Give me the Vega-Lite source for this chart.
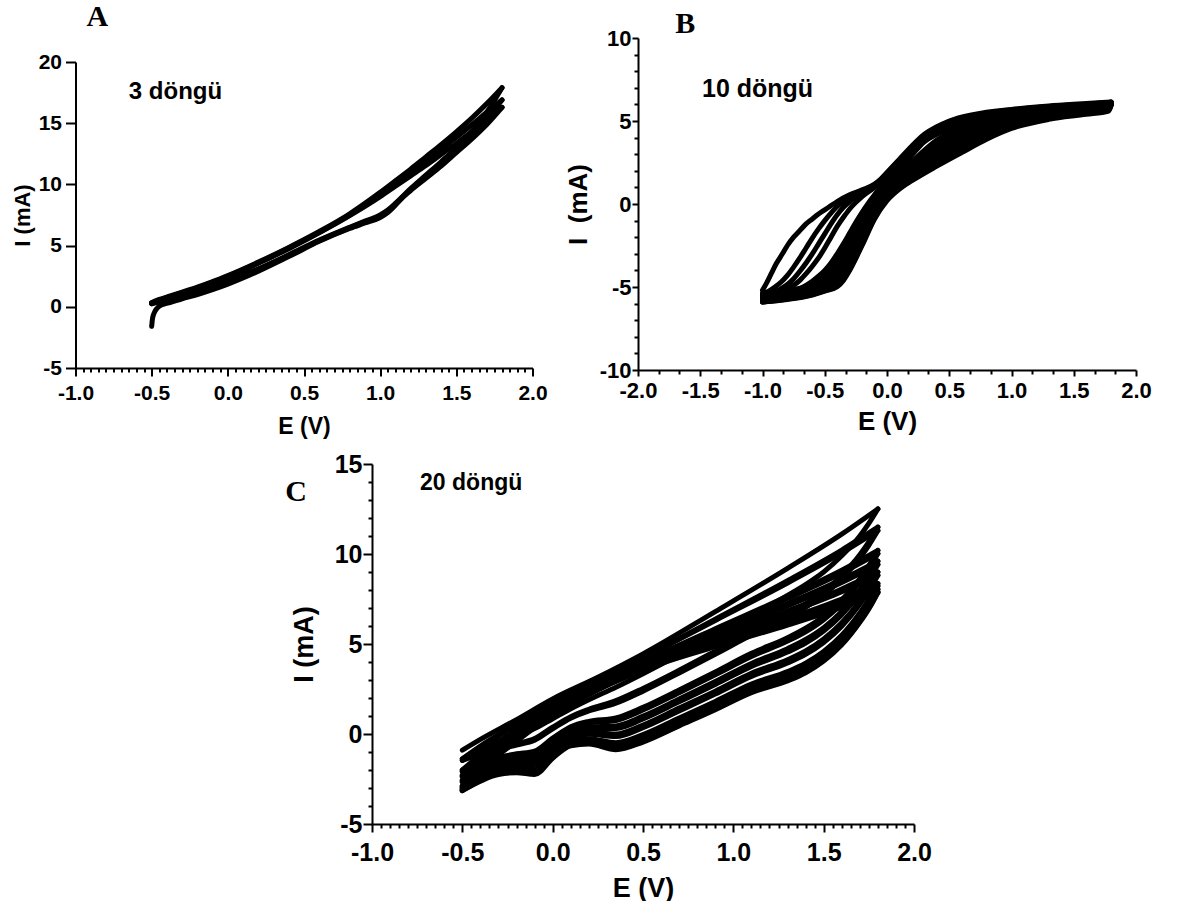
{
"$schema":"https://vega.github.io/schema/vega-lite/v6.json",
"background":"white",
"padding":{"left":10.5,"top":2,"right":0,"bottom":0},
"config":{"view":{"stroke":null},"axis":{"grid":false,"domainColor":"black","domainWidth":2,"tickColor":"black","tickWidth":2,"labelColor":"black","titleColor":"black","labelFont":"Liberation Sans","titleFont":"Liberation Sans","labelFontWeight":"bold","titleFontWeight":"bold","labelOverlap":false,"labelBound":false,"labelFlush":false}},
"datasets":{
"A":[
{"s":"f1","E":-0.5,"I":-1.6},{"s":"f1","E":-0.495,"I":-1.0},{"s":"f1","E":-0.485,"I":-0.55},{"s":"f1","E":-0.47,"I":-0.2},{"s":"f1","E":-0.45,"I":0.05},{"s":"f1","E":-0.42,"I":0.22},{"s":"f1","E":-0.38,"I":0.35},{"s":"f1","E":-0.3,"I":0.65},{"s":"f1","E":-0.2,"I":1.0},{"s":"f1","E":-0.1,"I":1.4},{"s":"f1","E":0,"I":1.85},{"s":"f1","E":0.2,"I":2.9},{"s":"f1","E":0.4,"I":4.1},{"s":"f1","E":0.6,"I":5.35},{"s":"f1","E":0.8,"I":6.4},{"s":"f1","E":0.9,"I":6.85},{"s":"f1","E":1.0,"I":7.3},{"s":"f1","E":1.05,"I":7.7},{"s":"f1","E":1.1,"I":8.3},{"s":"f1","E":1.15,"I":8.95},{"s":"f1","E":1.2,"I":9.5},{"s":"f1","E":1.3,"I":10.5},{"s":"f1","E":1.4,"I":11.5},{"s":"f1","E":1.5,"I":12.6},{"s":"f1","E":1.6,"I":13.7},{"s":"f1","E":1.7,"I":14.9},{"s":"f1","E":1.8,"I":16.3},
{"s":"r1","E":-0.5,"I":0.25},{"s":"r1","E":-0.45,"I":0.5},{"s":"r1","E":-0.4,"I":0.7},{"s":"r1","E":-0.3,"I":1.1},{"s":"r1","E":-0.2,"I":1.5},{"s":"r1","E":-0.1,"I":1.95},{"s":"r1","E":0,"I":2.45},{"s":"r1","E":0.2,"I":3.55},{"s":"r1","E":0.4,"I":4.75},{"s":"r1","E":0.6,"I":6.05},{"s":"r1","E":0.8,"I":7.45},{"s":"r1","E":0.9,"I":8.2},{"s":"r1","E":1.0,"I":9.0},{"s":"r1","E":1.1,"I":9.85},{"s":"r1","E":1.2,"I":10.7},{"s":"r1","E":1.3,"I":11.55},{"s":"r1","E":1.4,"I":12.45},{"s":"r1","E":1.5,"I":13.35},{"s":"r1","E":1.6,"I":14.3},{"s":"r1","E":1.7,"I":15.3},{"s":"r1","E":1.8,"I":16.3},
{"s":"f2","E":-0.5,"I":0.25},{"s":"f2","E":-0.45,"I":0.4},{"s":"f2","E":-0.4,"I":0.55},{"s":"f2","E":-0.3,"I":0.85},{"s":"f2","E":-0.2,"I":1.2},{"s":"f2","E":-0.1,"I":1.6},{"s":"f2","E":0,"I":2.05},{"s":"f2","E":0.2,"I":3.05},{"s":"f2","E":0.4,"I":4.2},{"s":"f2","E":0.6,"I":5.4},{"s":"f2","E":0.8,"I":6.45},{"s":"f2","E":0.9,"I":6.95},{"s":"f2","E":1.0,"I":7.45},{"s":"f2","E":1.05,"I":7.85},{"s":"f2","E":1.1,"I":8.4},{"s":"f2","E":1.15,"I":9.0},{"s":"f2","E":1.2,"I":9.6},{"s":"f2","E":1.3,"I":10.65},{"s":"f2","E":1.4,"I":11.7},{"s":"f2","E":1.5,"I":12.8},{"s":"f2","E":1.6,"I":13.95},{"s":"f2","E":1.7,"I":15.35},{"s":"f2","E":1.8,"I":16.9},
{"s":"r2","E":-0.5,"I":0.3},{"s":"r2","E":-0.45,"I":0.55},{"s":"r2","E":-0.4,"I":0.75},{"s":"r2","E":-0.3,"I":1.15},{"s":"r2","E":-0.2,"I":1.55},{"s":"r2","E":-0.1,"I":2.0},{"s":"r2","E":0,"I":2.5},{"s":"r2","E":0.2,"I":3.6},{"s":"r2","E":0.4,"I":4.8},{"s":"r2","E":0.6,"I":6.1},{"s":"r2","E":0.8,"I":7.5},{"s":"r2","E":0.9,"I":8.3},{"s":"r2","E":1.0,"I":9.15},{"s":"r2","E":1.1,"I":10.05},{"s":"r2","E":1.2,"I":10.95},{"s":"r2","E":1.3,"I":11.9},{"s":"r2","E":1.4,"I":12.85},{"s":"r2","E":1.5,"I":13.85},{"s":"r2","E":1.6,"I":14.85},{"s":"r2","E":1.7,"I":15.9},{"s":"r2","E":1.8,"I":16.9},
{"s":"f3","E":-0.5,"I":0.3},{"s":"f3","E":-0.45,"I":0.45},{"s":"f3","E":-0.4,"I":0.6},{"s":"f3","E":-0.3,"I":0.9},{"s":"f3","E":-0.2,"I":1.25},{"s":"f3","E":-0.1,"I":1.65},{"s":"f3","E":0,"I":2.1},{"s":"f3","E":0.2,"I":3.1},{"s":"f3","E":0.4,"I":4.25},{"s":"f3","E":0.6,"I":5.45},{"s":"f3","E":0.8,"I":6.5},{"s":"f3","E":0.9,"I":7.0},{"s":"f3","E":1.0,"I":7.5},{"s":"f3","E":1.05,"I":7.9},{"s":"f3","E":1.1,"I":8.45},{"s":"f3","E":1.15,"I":9.05},{"s":"f3","E":1.2,"I":9.65},{"s":"f3","E":1.3,"I":10.75},{"s":"f3","E":1.4,"I":11.85},{"s":"f3","E":1.5,"I":13.0},{"s":"f3","E":1.6,"I":14.3},{"s":"f3","E":1.7,"I":15.9},{"s":"f3","E":1.8,"I":17.9},
{"s":"r3","E":-0.5,"I":0.35},{"s":"r3","E":-0.45,"I":0.6},{"s":"r3","E":-0.4,"I":0.8},{"s":"r3","E":-0.3,"I":1.2},{"s":"r3","E":-0.2,"I":1.6},{"s":"r3","E":-0.1,"I":2.05},{"s":"r3","E":0,"I":2.55},{"s":"r3","E":0.2,"I":3.65},{"s":"r3","E":0.4,"I":4.85},{"s":"r3","E":0.6,"I":6.15},{"s":"r3","E":0.8,"I":7.6},{"s":"r3","E":0.9,"I":8.45},{"s":"r3","E":1.0,"I":9.35},{"s":"r3","E":1.1,"I":10.3},{"s":"r3","E":1.2,"I":11.25},{"s":"r3","E":1.3,"I":12.25},{"s":"r3","E":1.4,"I":13.25},{"s":"r3","E":1.5,"I":14.3},{"s":"r3","E":1.6,"I":15.4},{"s":"r3","E":1.7,"I":16.6},{"s":"r3","E":1.8,"I":17.9}
],
"B":[
{"s":"f1","E":-1.0,"I":-5.2},{"s":"f1","E":-0.97,"I":-4.8},{"s":"f1","E":-0.93,"I":-4.2},{"s":"f1","E":-0.89,"I":-3.6},{"s":"f1","E":-0.84,"I":-3.0},{"s":"f1","E":-0.8,"I":-2.5},{"s":"f1","E":-0.75,"I":-2.0},{"s":"f1","E":-0.7,"I":-1.6},{"s":"f1","E":-0.65,"I":-1.2},{"s":"f1","E":-0.6,"I":-0.9},{"s":"f1","E":-0.55,"I":-0.6},{"s":"f1","E":-0.5,"I":-0.35},{"s":"f1","E":-0.45,"I":-0.1},{"s":"f1","E":-0.4,"I":0.15},{"s":"f1","E":-0.3,"I":0.55},{"s":"f1","E":-0.2,"I":0.85},{"s":"f1","E":-0.1,"I":1.2},{"s":"f1","E":-0.05,"I":1.5},{"s":"f1","E":0,"I":1.9},{"s":"f1","E":0.1,"I":2.7},{"s":"f1","E":0.2,"I":3.5},{"s":"f1","E":0.3,"I":4.2},{"s":"f1","E":0.4,"I":4.65},{"s":"f1","E":0.5,"I":5.0},{"s":"f1","E":0.7,"I":5.4},{"s":"f1","E":1.0,"I":5.7},{"s":"f1","E":1.3,"I":5.9},{"s":"f1","E":1.6,"I":6.05},{"s":"f1","E":1.8,"I":6.15},
{"s":"f2","E":-1.0,"I":-5.4},{"s":"f2","E":-0.95,"I":-5.25},{"s":"f2","E":-0.9,"I":-5.0},{"s":"f2","E":-0.85,"I":-4.7},{"s":"f2","E":-0.8,"I":-4.3},{"s":"f2","E":-0.75,"I":-3.8},{"s":"f2","E":-0.7,"I":-3.25},{"s":"f2","E":-0.65,"I":-2.65},{"s":"f2","E":-0.6,"I":-2.05},{"s":"f2","E":-0.55,"I":-1.5},{"s":"f2","E":-0.5,"I":-1.0},{"s":"f2","E":-0.45,"I":-0.55},{"s":"f2","E":-0.4,"I":-0.15},{"s":"f2","E":-0.35,"I":0.15},{"s":"f2","E":-0.3,"I":0.4},{"s":"f2","E":-0.2,"I":0.78},{"s":"f2","E":-0.1,"I":1.15},{"s":"f2","E":-0.05,"I":1.45},{"s":"f2","E":0,"I":1.85},{"s":"f2","E":0.1,"I":2.65},{"s":"f2","E":0.2,"I":3.45},{"s":"f2","E":0.3,"I":4.15},{"s":"f2","E":0.4,"I":4.6},{"s":"f2","E":0.5,"I":4.95},{"s":"f2","E":0.7,"I":5.35},{"s":"f2","E":1.0,"I":5.67},{"s":"f2","E":1.3,"I":5.87},{"s":"f2","E":1.6,"I":6.03},{"s":"f2","E":1.8,"I":6.12},
{"s":"f3","E":-1.0,"I":-5.5},{"s":"f3","E":-0.9,"I":-5.3},{"s":"f3","E":-0.85,"I":-5.1},{"s":"f3","E":-0.8,"I":-4.85},{"s":"f3","E":-0.75,"I":-4.5},{"s":"f3","E":-0.7,"I":-4.05},{"s":"f3","E":-0.65,"I":-3.55},{"s":"f3","E":-0.6,"I":-3.0},{"s":"f3","E":-0.55,"I":-2.4},{"s":"f3","E":-0.5,"I":-1.8},{"s":"f3","E":-0.45,"I":-1.2},{"s":"f3","E":-0.4,"I":-0.65},{"s":"f3","E":-0.35,"I":-0.2},{"s":"f3","E":-0.3,"I":0.15},{"s":"f3","E":-0.2,"I":0.68},{"s":"f3","E":-0.1,"I":1.1},{"s":"f3","E":-0.05,"I":1.4},{"s":"f3","E":0,"I":1.8},{"s":"f3","E":0.1,"I":2.6},{"s":"f3","E":0.2,"I":3.4},{"s":"f3","E":0.3,"I":4.1},{"s":"f3","E":0.4,"I":4.55},{"s":"f3","E":0.5,"I":4.9},{"s":"f3","E":0.7,"I":5.3},{"s":"f3","E":1.0,"I":5.64},{"s":"f3","E":1.3,"I":5.85},{"s":"f3","E":1.6,"I":6.0},{"s":"f3","E":1.8,"I":6.1},
{"s":"f4","E":-1.0,"I":-5.6},{"s":"f4","E":-0.9,"I":-5.45},{"s":"f4","E":-0.8,"I":-5.15},{"s":"f4","E":-0.75,"I":-4.9},{"s":"f4","E":-0.7,"I":-4.6},{"s":"f4","E":-0.65,"I":-4.2},{"s":"f4","E":-0.6,"I":-3.75},{"s":"f4","E":-0.55,"I":-3.25},{"s":"f4","E":-0.5,"I":-2.65},{"s":"f4","E":-0.45,"I":-2.0},{"s":"f4","E":-0.4,"I":-1.35},{"s":"f4","E":-0.35,"I":-0.8},{"s":"f4","E":-0.3,"I":-0.3},{"s":"f4","E":-0.25,"I":0.1},{"s":"f4","E":-0.2,"I":0.45},{"s":"f4","E":-0.1,"I":1.0},{"s":"f4","E":-0.05,"I":1.33},{"s":"f4","E":0,"I":1.75},{"s":"f4","E":0.1,"I":2.55},{"s":"f4","E":0.2,"I":3.35},{"s":"f4","E":0.3,"I":4.05},{"s":"f4","E":0.4,"I":4.5},{"s":"f4","E":0.5,"I":4.85},{"s":"f4","E":0.7,"I":5.28},{"s":"f4","E":1.0,"I":5.6},{"s":"f4","E":1.3,"I":5.82},{"s":"f4","E":1.6,"I":5.98},{"s":"f4","E":1.8,"I":6.08},
{"s":"f5","E":-1.0,"I":-5.7},{"s":"f5","E":-0.9,"I":-5.6},{"s":"f5","E":-0.8,"I":-5.4},{"s":"f5","E":-0.7,"I":-5.1},{"s":"f5","E":-0.6,"I":-4.65},{"s":"f5","E":-0.55,"I":-4.35},{"s":"f5","E":-0.5,"I":-4.0},{"s":"f5","E":-0.45,"I":-3.55},{"s":"f5","E":-0.4,"I":-3.0},{"s":"f5","E":-0.35,"I":-2.4},{"s":"f5","E":-0.3,"I":-1.75},{"s":"f5","E":-0.25,"I":-1.1},{"s":"f5","E":-0.2,"I":-0.5},{"s":"f5","E":-0.15,"I":0.05},{"s":"f5","E":-0.1,"I":0.55},{"s":"f5","E":-0.05,"I":1.05},{"s":"f5","E":0,"I":1.55},{"s":"f5","E":0.1,"I":2.45},{"s":"f5","E":0.2,"I":3.3},{"s":"f5","E":0.3,"I":4.0},{"s":"f5","E":0.4,"I":4.45},{"s":"f5","E":0.5,"I":4.8},{"s":"f5","E":0.7,"I":5.25},{"s":"f5","E":1.0,"I":5.57},{"s":"f5","E":1.3,"I":5.8},{"s":"f5","E":1.6,"I":5.96},{"s":"f5","E":1.8,"I":6.06},
{"s":"f6","E":-1.0,"I":-5.75},{"s":"f6","E":-0.9,"I":-5.65},{"s":"f6","E":-0.8,"I":-5.45},{"s":"f6","E":-0.7,"I":-5.2},{"s":"f6","E":-0.6,"I":-4.8},{"s":"f6","E":-0.5,"I":-4.2},{"s":"f6","E":-0.45,"I":-3.8},{"s":"f6","E":-0.4,"I":-3.3},{"s":"f6","E":-0.35,"I":-2.75},{"s":"f6","E":-0.3,"I":-2.1},{"s":"f6","E":-0.25,"I":-1.45},{"s":"f6","E":-0.2,"I":-0.8},{"s":"f6","E":-0.15,"I":-0.2},{"s":"f6","E":-0.1,"I":0.35},{"s":"f6","E":-0.05,"I":0.9},{"s":"f6","E":0,"I":1.45},{"s":"f6","E":0.1,"I":2.4},{"s":"f6","E":0.2,"I":3.25},{"s":"f6","E":0.3,"I":3.95},{"s":"f6","E":0.4,"I":4.4},{"s":"f6","E":0.5,"I":4.75},{"s":"f6","E":0.7,"I":5.2},{"s":"f6","E":1.0,"I":5.54},{"s":"f6","E":1.3,"I":5.77},{"s":"f6","E":1.6,"I":5.94},{"s":"f6","E":1.8,"I":6.04},
{"s":"f7","E":-1.0,"I":-5.8},{"s":"f7","E":-0.9,"I":-5.7},{"s":"f7","E":-0.8,"I":-5.5},{"s":"f7","E":-0.7,"I":-5.25},{"s":"f7","E":-0.6,"I":-4.9},{"s":"f7","E":-0.5,"I":-4.4},{"s":"f7","E":-0.45,"I":-4.0},{"s":"f7","E":-0.4,"I":-3.55},{"s":"f7","E":-0.35,"I":-3.05},{"s":"f7","E":-0.3,"I":-2.45},{"s":"f7","E":-0.25,"I":-1.8},{"s":"f7","E":-0.2,"I":-1.1},{"s":"f7","E":-0.15,"I":-0.45},{"s":"f7","E":-0.1,"I":0.15},{"s":"f7","E":-0.05,"I":0.75},{"s":"f7","E":0,"I":1.35},{"s":"f7","E":0.1,"I":2.3},{"s":"f7","E":0.2,"I":3.15},{"s":"f7","E":0.3,"I":3.9},{"s":"f7","E":0.4,"I":4.35},{"s":"f7","E":0.5,"I":4.7},{"s":"f7","E":0.7,"I":5.15},{"s":"f7","E":1.0,"I":5.5},{"s":"f7","E":1.3,"I":5.74},{"s":"f7","E":1.6,"I":5.92},{"s":"f7","E":1.8,"I":6.02},
{"s":"f8","E":-1.0,"I":-5.85},{"s":"f8","E":-0.9,"I":-5.75},{"s":"f8","E":-0.8,"I":-5.55},{"s":"f8","E":-0.7,"I":-5.3},{"s":"f8","E":-0.6,"I":-5.0},{"s":"f8","E":-0.5,"I":-4.55},{"s":"f8","E":-0.45,"I":-4.2},{"s":"f8","E":-0.4,"I":-3.8},{"s":"f8","E":-0.35,"I":-3.3},{"s":"f8","E":-0.3,"I":-2.75},{"s":"f8","E":-0.25,"I":-2.1},{"s":"f8","E":-0.2,"I":-1.4},{"s":"f8","E":-0.15,"I":-0.7},{"s":"f8","E":-0.1,"I":-0.05},{"s":"f8","E":-0.05,"I":0.6},{"s":"f8","E":0,"I":1.2},{"s":"f8","E":0.1,"I":2.2},{"s":"f8","E":0.2,"I":3.1},{"s":"f8","E":0.3,"I":3.85},{"s":"f8","E":0.4,"I":4.3},{"s":"f8","E":0.5,"I":4.65},{"s":"f8","E":0.7,"I":5.1},{"s":"f8","E":1.0,"I":5.47},{"s":"f8","E":1.3,"I":5.72},{"s":"f8","E":1.6,"I":5.9},{"s":"f8","E":1.8,"I":6.0},
{"s":"f9","E":-1.0,"I":-5.85},{"s":"f9","E":-0.9,"I":-5.78},{"s":"f9","E":-0.8,"I":-5.6},{"s":"f9","E":-0.7,"I":-5.35},{"s":"f9","E":-0.6,"I":-5.05},{"s":"f9","E":-0.5,"I":-4.65},{"s":"f9","E":-0.45,"I":-4.35},{"s":"f9","E":-0.4,"I":-4.0},{"s":"f9","E":-0.35,"I":-3.55},{"s":"f9","E":-0.3,"I":-3.05},{"s":"f9","E":-0.25,"I":-2.45},{"s":"f9","E":-0.2,"I":-1.7},{"s":"f9","E":-0.15,"I":-0.95},{"s":"f9","E":-0.1,"I":-0.25},{"s":"f9","E":-0.05,"I":0.45},{"s":"f9","E":0,"I":1.1},{"s":"f9","E":0.1,"I":2.1},{"s":"f9","E":0.2,"I":3.0},{"s":"f9","E":0.3,"I":3.8},{"s":"f9","E":0.4,"I":4.25},{"s":"f9","E":0.5,"I":4.6},{"s":"f9","E":0.7,"I":5.05},{"s":"f9","E":1.0,"I":5.44},{"s":"f9","E":1.3,"I":5.7},{"s":"f9","E":1.6,"I":5.88},{"s":"f9","E":1.8,"I":5.98},
{"s":"f10","E":-1.0,"I":-5.9},{"s":"f10","E":-0.9,"I":-5.8},{"s":"f10","E":-0.8,"I":-5.62},{"s":"f10","E":-0.7,"I":-5.4},{"s":"f10","E":-0.6,"I":-5.1},{"s":"f10","E":-0.5,"I":-4.75},{"s":"f10","E":-0.45,"I":-4.5},{"s":"f10","E":-0.4,"I":-4.15},{"s":"f10","E":-0.35,"I":-3.75},{"s":"f10","E":-0.3,"I":-3.25},{"s":"f10","E":-0.25,"I":-2.65},{"s":"f10","E":-0.2,"I":-1.95},{"s":"f10","E":-0.15,"I":-1.2},{"s":"f10","E":-0.1,"I":-0.45},{"s":"f10","E":-0.05,"I":0.3},{"s":"f10","E":0,"I":1.0},{"s":"f10","E":0.1,"I":2.0},{"s":"f10","E":0.2,"I":2.95},{"s":"f10","E":0.3,"I":3.75},{"s":"f10","E":0.4,"I":4.2},{"s":"f10","E":0.5,"I":4.55},{"s":"f10","E":0.7,"I":5.0},{"s":"f10","E":1.0,"I":5.4},{"s":"f10","E":1.3,"I":5.68},{"s":"f10","E":1.6,"I":5.86},{"s":"f10","E":1.8,"I":5.95},
{"s":"r1","E":1.8,"I":6.15},{"s":"r1","E":1.78,"I":5.95},{"s":"r1","E":1.6,"I":5.95},{"s":"r1","E":1.3,"I":5.75},{"s":"r1","E":1.0,"I":5.45},{"s":"r1","E":0.8,"I":5.15},{"s":"r1","E":0.6,"I":4.7},{"s":"r1","E":0.4,"I":3.85},{"s":"r1","E":0.2,"I":2.55},{"s":"r1","E":0.1,"I":1.85},{"s":"r1","E":0,"I":1.0},{"s":"r1","E":-0.1,"I":0.0},{"s":"r1","E":-0.2,"I":-1.4},{"s":"r1","E":-0.3,"I":-3.0},{"s":"r1","E":-0.35,"I":-3.6},{"s":"r1","E":-0.4,"I":-4.1},{"s":"r1","E":-0.5,"I":-4.6},{"s":"r1","E":-0.6,"I":-4.9},{"s":"r1","E":-0.8,"I":-5.2},{"s":"r1","E":-1.0,"I":-5.4},
{"s":"r2","E":1.8,"I":6.12},{"s":"r2","E":1.78,"I":5.9},{"s":"r2","E":1.6,"I":5.89},{"s":"r2","E":1.3,"I":5.68},{"s":"r2","E":1.0,"I":5.35},{"s":"r2","E":0.8,"I":5.01},{"s":"r2","E":0.6,"I":4.52},{"s":"r2","E":0.4,"I":3.68},{"s":"r2","E":0.2,"I":2.42},{"s":"r2","E":0.1,"I":1.74},{"s":"r2","E":0,"I":0.91},{"s":"r2","E":-0.1,"I":-0.15},{"s":"r2","E":-0.2,"I":-1.6},{"s":"r2","E":-0.3,"I":-3.2},{"s":"r2","E":-0.35,"I":-3.8},{"s":"r2","E":-0.4,"I":-4.3},{"s":"r2","E":-0.5,"I":-4.75},{"s":"r2","E":-0.6,"I":-5.05},{"s":"r2","E":-0.8,"I":-5.35},{"s":"r2","E":-1.0,"I":-5.5},
{"s":"r3","E":1.8,"I":6.1},{"s":"r3","E":1.78,"I":5.85},{"s":"r3","E":1.6,"I":5.83},{"s":"r3","E":1.3,"I":5.61},{"s":"r3","E":1.0,"I":5.25},{"s":"r3","E":0.8,"I":4.87},{"s":"r3","E":0.6,"I":4.34},{"s":"r3","E":0.4,"I":3.5},{"s":"r3","E":0.2,"I":2.29},{"s":"r3","E":0.1,"I":1.64},{"s":"r3","E":0,"I":0.82},{"s":"r3","E":-0.1,"I":-0.28},{"s":"r3","E":-0.2,"I":-1.75},{"s":"r3","E":-0.3,"I":-3.35},{"s":"r3","E":-0.35,"I":-3.95},{"s":"r3","E":-0.4,"I":-4.45},{"s":"r3","E":-0.5,"I":-4.88},{"s":"r3","E":-0.6,"I":-5.15},{"s":"r3","E":-0.8,"I":-5.45},{"s":"r3","E":-1.0,"I":-5.6},
{"s":"r4","E":1.8,"I":6.08},{"s":"r4","E":1.78,"I":5.8},{"s":"r4","E":1.6,"I":5.77},{"s":"r4","E":1.3,"I":5.53},{"s":"r4","E":1.0,"I":5.15},{"s":"r4","E":0.8,"I":4.73},{"s":"r4","E":0.6,"I":4.17},{"s":"r4","E":0.4,"I":3.33},{"s":"r4","E":0.2,"I":2.17},{"s":"r4","E":0.1,"I":1.53},{"s":"r4","E":0,"I":0.73},{"s":"r4","E":-0.1,"I":-0.4},{"s":"r4","E":-0.2,"I":-1.9},{"s":"r4","E":-0.3,"I":-3.5},{"s":"r4","E":-0.35,"I":-4.1},{"s":"r4","E":-0.4,"I":-4.55},{"s":"r4","E":-0.5,"I":-4.98},{"s":"r4","E":-0.6,"I":-5.22},{"s":"r4","E":-0.8,"I":-5.52},{"s":"r4","E":-1.0,"I":-5.7},
{"s":"r5","E":1.8,"I":6.06},{"s":"r5","E":1.78,"I":5.75},{"s":"r5","E":1.6,"I":5.71},{"s":"r5","E":1.3,"I":5.46},{"s":"r5","E":1.0,"I":5.05},{"s":"r5","E":0.8,"I":4.59},{"s":"r5","E":0.6,"I":3.99},{"s":"r5","E":0.4,"I":3.15},{"s":"r5","E":0.2,"I":2.04},{"s":"r5","E":0.1,"I":1.43},{"s":"r5","E":0,"I":0.64},{"s":"r5","E":-0.1,"I":-0.5},{"s":"r5","E":-0.2,"I":-2.02},{"s":"r5","E":-0.3,"I":-3.6},{"s":"r5","E":-0.35,"I":-4.2},{"s":"r5","E":-0.4,"I":-4.65},{"s":"r5","E":-0.5,"I":-5.05},{"s":"r5","E":-0.6,"I":-5.28},{"s":"r5","E":-0.8,"I":-5.58},{"s":"r5","E":-1.0,"I":-5.75},
{"s":"r6","E":1.8,"I":6.04},{"s":"r6","E":1.78,"I":5.72},{"s":"r6","E":1.6,"I":5.64},{"s":"r6","E":1.3,"I":5.39},{"s":"r6","E":1.0,"I":4.95},{"s":"r6","E":0.8,"I":4.46},{"s":"r6","E":0.6,"I":3.81},{"s":"r6","E":0.4,"I":2.98},{"s":"r6","E":0.2,"I":1.91},{"s":"r6","E":0.1,"I":1.32},{"s":"r6","E":0,"I":0.56},{"s":"r6","E":-0.1,"I":-0.6},{"s":"r6","E":-0.2,"I":-2.13},{"s":"r6","E":-0.3,"I":-3.7},{"s":"r6","E":-0.35,"I":-4.3},{"s":"r6","E":-0.4,"I":-4.72},{"s":"r6","E":-0.5,"I":-5.1},{"s":"r6","E":-0.6,"I":-5.33},{"s":"r6","E":-0.8,"I":-5.62},{"s":"r6","E":-1.0,"I":-5.8},
{"s":"r7","E":1.8,"I":6.02},{"s":"r7","E":1.78,"I":5.7},{"s":"r7","E":1.6,"I":5.58},{"s":"r7","E":1.3,"I":5.32},{"s":"r7","E":1.0,"I":4.85},{"s":"r7","E":0.8,"I":4.32},{"s":"r7","E":0.6,"I":3.63},{"s":"r7","E":0.4,"I":2.8},{"s":"r7","E":0.2,"I":1.78},{"s":"r7","E":0.1,"I":1.22},{"s":"r7","E":0,"I":0.47},{"s":"r7","E":-0.1,"I":-0.7},{"s":"r7","E":-0.2,"I":-2.23},{"s":"r7","E":-0.3,"I":-3.78},{"s":"r7","E":-0.35,"I":-4.38},{"s":"r7","E":-0.4,"I":-4.8},{"s":"r7","E":-0.5,"I":-5.15},{"s":"r7","E":-0.6,"I":-5.38},{"s":"r7","E":-0.8,"I":-5.66},{"s":"r7","E":-1.0,"I":-5.85},
{"s":"r8","E":1.8,"I":6.0},{"s":"r8","E":1.78,"I":5.66},{"s":"r8","E":1.6,"I":5.52},{"s":"r8","E":1.3,"I":5.25},{"s":"r8","E":1.0,"I":4.75},{"s":"r8","E":0.8,"I":4.18},{"s":"r8","E":0.6,"I":3.46},{"s":"r8","E":0.4,"I":2.63},{"s":"r8","E":0.2,"I":1.66},{"s":"r8","E":0.1,"I":1.11},{"s":"r8","E":0,"I":0.38},{"s":"r8","E":-0.1,"I":-0.78},{"s":"r8","E":-0.2,"I":-2.32},{"s":"r8","E":-0.3,"I":-3.86},{"s":"r8","E":-0.35,"I":-4.45},{"s":"r8","E":-0.4,"I":-4.86},{"s":"r8","E":-0.5,"I":-5.2},{"s":"r8","E":-0.6,"I":-5.42},{"s":"r8","E":-0.8,"I":-5.7},{"s":"r8","E":-1.0,"I":-5.85},
{"s":"r9","E":1.8,"I":5.98},{"s":"r9","E":1.78,"I":5.63},{"s":"r9","E":1.6,"I":5.46},{"s":"r9","E":1.3,"I":5.17},{"s":"r9","E":1.0,"I":4.65},{"s":"r9","E":0.8,"I":4.04},{"s":"r9","E":0.6,"I":3.28},{"s":"r9","E":0.4,"I":2.45},{"s":"r9","E":0.2,"I":1.53},{"s":"r9","E":0.1,"I":1.01},{"s":"r9","E":0,"I":0.29},{"s":"r9","E":-0.1,"I":-0.85},{"s":"r9","E":-0.2,"I":-2.42},{"s":"r9","E":-0.3,"I":-3.93},{"s":"r9","E":-0.35,"I":-4.52},{"s":"r9","E":-0.4,"I":-4.92},{"s":"r9","E":-0.5,"I":-5.22},{"s":"r9","E":-0.6,"I":-5.45},{"s":"r9","E":-0.8,"I":-5.72},{"s":"r9","E":-1.0,"I":-5.9},
{"s":"r10","E":1.8,"I":5.95},{"s":"r10","E":1.78,"I":5.6},{"s":"r10","E":1.6,"I":5.4},{"s":"r10","E":1.3,"I":5.1},{"s":"r10","E":1.0,"I":4.55},{"s":"r10","E":0.8,"I":3.9},{"s":"r10","E":0.6,"I":3.1},{"s":"r10","E":0.4,"I":2.28},{"s":"r10","E":0.2,"I":1.4},{"s":"r10","E":0.1,"I":0.9},{"s":"r10","E":0,"I":0.2},{"s":"r10","E":-0.1,"I":-0.9},{"s":"r10","E":-0.2,"I":-2.5},{"s":"r10","E":-0.3,"I":-4.0},{"s":"r10","E":-0.35,"I":-4.6},{"s":"r10","E":-0.4,"I":-4.98},{"s":"r10","E":-0.5,"I":-5.25},{"s":"r10","E":-0.6,"I":-5.48},{"s":"r10","E":-0.8,"I":-5.75},{"s":"r10","E":-1.0,"I":-5.9}
],
"C":[
{"s":"f1","E":-0.5,"I":-0.9},{"s":"f1","E":-0.4,"I":-0.3},{"s":"f1","E":-0.2,"I":0.8},{"s":"f1","E":0,"I":1.95},{"s":"f1","E":0.25,"I":3.15},{"s":"f1","E":0.5,"I":4.45},{"s":"f1","E":0.9,"I":6.8},{"s":"f1","E":1.3,"I":9.2},{"s":"f1","E":1.6,"I":11.1},{"s":"f1","E":1.8,"I":12.5},
{"s":"f2","E":-0.5,"I":-1.38},{"s":"f2","E":-0.4,"I":-0.67},{"s":"f2","E":-0.2,"I":0.55},{"s":"f2","E":0,"I":1.76},{"s":"f2","E":0.25,"I":3.01},{"s":"f2","E":0.5,"I":4.26},{"s":"f2","E":0.9,"I":6.38},{"s":"f2","E":1.3,"I":8.52},{"s":"f2","E":1.6,"I":10.22},{"s":"f2","E":1.8,"I":11.49},
{"s":"f3","E":-0.5,"I":-1.47},{"s":"f3","E":-0.4,"I":-0.74},{"s":"f3","E":-0.2,"I":0.5},{"s":"f3","E":0,"I":1.73},{"s":"f3","E":0.25,"I":2.98},{"s":"f3","E":0.5,"I":4.23},{"s":"f3","E":0.9,"I":6.31},{"s":"f3","E":1.3,"I":8.39},{"s":"f3","E":1.6,"I":10.06},{"s":"f3","E":1.8,"I":11.3},
{"s":"f4","E":-0.5,"I":-2.0},{"s":"f4","E":-0.4,"I":-1.15},{"s":"f4","E":-0.2,"I":0.23},{"s":"f4","E":0,"I":1.53},{"s":"f4","E":0.25,"I":2.83},{"s":"f4","E":0.5,"I":4.03},{"s":"f4","E":0.9,"I":5.85},{"s":"f4","E":1.3,"I":7.65},{"s":"f4","E":1.6,"I":9.1},{"s":"f4","E":1.8,"I":10.2},
{"s":"f5","E":-0.5,"I":-2.09},{"s":"f5","E":-0.4,"I":-1.22},{"s":"f5","E":-0.2,"I":0.18},{"s":"f5","E":0,"I":1.49},{"s":"f5","E":0.25,"I":2.8},{"s":"f5","E":0.5,"I":3.99},{"s":"f5","E":0.9,"I":5.77},{"s":"f5","E":1.3,"I":7.53},{"s":"f5","E":1.6,"I":8.94},{"s":"f5","E":1.8,"I":10.02},
{"s":"f6","E":-0.5,"I":-2.29},{"s":"f6","E":-0.4,"I":-1.37},{"s":"f6","E":-0.2,"I":0.08},{"s":"f6","E":0,"I":1.42},{"s":"f6","E":0.25,"I":2.74},{"s":"f6","E":0.5,"I":3.92},{"s":"f6","E":0.9,"I":5.6},{"s":"f6","E":1.3,"I":7.25},{"s":"f6","E":1.6,"I":8.58},{"s":"f6","E":1.8,"I":9.6},
{"s":"f7","E":-0.5,"I":-2.37},{"s":"f7","E":-0.4,"I":-1.44},{"s":"f7","E":-0.2,"I":0.03},{"s":"f7","E":0,"I":1.38},{"s":"f7","E":0.25,"I":2.72},{"s":"f7","E":0.5,"I":3.88},{"s":"f7","E":0.9,"I":5.53},{"s":"f7","E":1.3,"I":7.12},{"s":"f7","E":1.6,"I":8.42},{"s":"f7","E":1.8,"I":9.42},
{"s":"f8","E":-0.5,"I":-2.57},{"s":"f8","E":-0.4,"I":-1.59},{"s":"f8","E":-0.2,"I":-0.07},{"s":"f8","E":0,"I":1.3},{"s":"f8","E":0.25,"I":2.66},{"s":"f8","E":0.5,"I":3.8},{"s":"f8","E":0.9,"I":5.36},{"s":"f8","E":1.3,"I":6.84},{"s":"f8","E":1.6,"I":8.06},{"s":"f8","E":1.8,"I":9.0},
{"s":"f9","E":-0.5,"I":-2.66},{"s":"f9","E":-0.4,"I":-1.66},{"s":"f9","E":-0.2,"I":-0.12},{"s":"f9","E":0,"I":1.27},{"s":"f9","E":0.25,"I":2.63},{"s":"f9","E":0.5,"I":3.77},{"s":"f9","E":0.9,"I":5.28},{"s":"f9","E":1.3,"I":6.72},{"s":"f9","E":1.6,"I":7.9},{"s":"f9","E":1.8,"I":8.82},
{"s":"f10","E":-0.5,"I":-2.88},{"s":"f10","E":-0.4,"I":-1.83},{"s":"f10","E":-0.2,"I":-0.24},{"s":"f10","E":0,"I":1.19},{"s":"f10","E":0.25,"I":2.57},{"s":"f10","E":0.5,"I":3.69},{"s":"f10","E":0.9,"I":5.09},{"s":"f10","E":1.3,"I":6.41},{"s":"f10","E":1.6,"I":7.5},{"s":"f10","E":1.8,"I":8.36},
{"s":"f11","E":-0.5,"I":-2.95},{"s":"f11","E":-0.4,"I":-1.88},{"s":"f11","E":-0.2,"I":-0.27},{"s":"f11","E":0,"I":1.16},{"s":"f11","E":0.25,"I":2.55},{"s":"f11","E":0.5,"I":3.66},{"s":"f11","E":0.9,"I":5.03},{"s":"f11","E":1.3,"I":6.32},{"s":"f11","E":1.6,"I":7.38},{"s":"f11","E":1.8,"I":8.22},
{"s":"f12","E":-0.5,"I":-3.03},{"s":"f12","E":-0.4,"I":-1.95},{"s":"f12","E":-0.2,"I":-0.32},{"s":"f12","E":0,"I":1.13},{"s":"f12","E":0.25,"I":2.52},{"s":"f12","E":0.5,"I":3.63},{"s":"f12","E":0.9,"I":4.96},{"s":"f12","E":1.3,"I":6.19},{"s":"f12","E":1.6,"I":7.22},{"s":"f12","E":1.8,"I":8.04},
{"s":"f13","E":-0.5,"I":-3.1},{"s":"f13","E":-0.4,"I":-2.0},{"s":"f13","E":-0.2,"I":-0.35},{"s":"f13","E":0,"I":1.1},{"s":"f13","E":0.25,"I":2.5},{"s":"f13","E":0.5,"I":3.6},{"s":"f13","E":0.9,"I":4.9},{"s":"f13","E":1.3,"I":6.1},{"s":"f13","E":1.6,"I":7.1},{"s":"f13","E":1.8,"I":7.9},
{"s":"f14","E":-0.5,"I":-3.15},{"s":"f14","E":-0.4,"I":-2.05},{"s":"f14","E":-0.2,"I":-0.4},{"s":"f14","E":0,"I":1.05},{"s":"f14","E":0.25,"I":2.45},{"s":"f14","E":0.5,"I":3.55},{"s":"f14","E":0.9,"I":4.85},{"s":"f14","E":1.3,"I":6.05},{"s":"f14","E":1.6,"I":7.05},{"s":"f14","E":1.8,"I":7.85},
{"s":"r1","E":1.8,"I":12.5},{"s":"r1","E":1.75,"I":11.7},{"s":"r1","E":1.7,"I":11.0},{"s":"r1","E":1.6,"I":9.9},{"s":"r1","E":1.5,"I":9.0},{"s":"r1","E":1.4,"I":8.3},{"s":"r1","E":1.3,"I":7.7},{"s":"r1","E":1.1,"I":6.6},{"s":"r1","E":0.9,"I":5.5},{"s":"r1","E":0.7,"I":4.4},{"s":"r1","E":0.5,"I":3.35},{"s":"r1","E":0.35,"I":2.6},{"s":"r1","E":0.2,"I":1.9},{"s":"r1","E":0.1,"I":1.4},{"s":"r1","E":0,"I":0.85},{"s":"r1","E":-0.1,"I":0.3},{"s":"r1","E":-0.2,"I":-0.1},{"s":"r1","E":-0.3,"I":-0.4},{"s":"r1","E":-0.5,"I":-1.38},
{"s":"r2","E":1.8,"I":11.49},{"s":"r2","E":1.75,"I":10.67},{"s":"r2","E":1.7,"I":9.96},{"s":"r2","E":1.6,"I":8.82},{"s":"r2","E":1.5,"I":7.92},{"s":"r2","E":1.4,"I":7.23},{"s":"r2","E":1.3,"I":6.67},{"s":"r2","E":1.1,"I":5.67},{"s":"r2","E":0.9,"I":4.6},{"s":"r2","E":0.7,"I":3.54},{"s":"r2","E":0.5,"I":2.53},{"s":"r2","E":0.35,"I":1.85},{"s":"r2","E":0.2,"I":1.37},{"s":"r2","E":0.1,"I":0.96},{"s":"r2","E":0,"I":0.38},{"s":"r2","E":-0.1,"I":-0.25},{"s":"r2","E":-0.2,"I":-0.54},{"s":"r2","E":-0.3,"I":-0.8},{"s":"r2","E":-0.5,"I":-1.47},
{"s":"r3","E":1.8,"I":11.3},{"s":"r3","E":1.75,"I":10.48},{"s":"r3","E":1.7,"I":9.77},{"s":"r3","E":1.6,"I":8.63},{"s":"r3","E":1.5,"I":7.73},{"s":"r3","E":1.4,"I":7.04},{"s":"r3","E":1.3,"I":6.48},{"s":"r3","E":1.1,"I":5.5},{"s":"r3","E":0.9,"I":4.43},{"s":"r3","E":0.7,"I":3.39},{"s":"r3","E":0.5,"I":2.38},{"s":"r3","E":0.35,"I":1.71},{"s":"r3","E":0.2,"I":1.28},{"s":"r3","E":0.1,"I":0.88},{"s":"r3","E":0,"I":0.29},{"s":"r3","E":-0.1,"I":-0.35},{"s":"r3","E":-0.2,"I":-0.62},{"s":"r3","E":-0.3,"I":-0.87},{"s":"r3","E":-0.5,"I":-2.0},
{"s":"r4","E":1.8,"I":10.2},{"s":"r4","E":1.75,"I":9.35},{"s":"r4","E":1.7,"I":8.63},{"s":"r4","E":1.6,"I":7.45},{"s":"r4","E":1.5,"I":6.55},{"s":"r4","E":1.4,"I":5.88},{"s":"r4","E":1.3,"I":5.35},{"s":"r4","E":1.1,"I":4.48},{"s":"r4","E":0.9,"I":3.45},{"s":"r4","E":0.7,"I":2.45},{"s":"r4","E":0.5,"I":1.48},{"s":"r4","E":0.35,"I":0.89},{"s":"r4","E":0.2,"I":0.7},{"s":"r4","E":0.1,"I":0.4},{"s":"r4","E":0,"I":-0.23},{"s":"r4","E":-0.1,"I":-0.95},{"s":"r4","E":-0.2,"I":-1.1},{"s":"r4","E":-0.3,"I":-1.3},{"s":"r4","E":-0.5,"I":-2.09},
{"s":"r5","E":1.8,"I":10.02},{"s":"r5","E":1.75,"I":9.16},{"s":"r5","E":1.7,"I":8.44},{"s":"r5","E":1.6,"I":7.25},{"s":"r5","E":1.5,"I":6.35},{"s":"r5","E":1.4,"I":5.68},{"s":"r5","E":1.3,"I":5.16},{"s":"r5","E":1.1,"I":4.31},{"s":"r5","E":0.9,"I":3.29},{"s":"r5","E":0.7,"I":2.29},{"s":"r5","E":0.5,"I":1.33},{"s":"r5","E":0.35,"I":0.75},{"s":"r5","E":0.2,"I":0.6},{"s":"r5","E":0.1,"I":0.32},{"s":"r5","E":0,"I":-0.31},{"s":"r5","E":-0.1,"I":-1.05},{"s":"r5","E":-0.2,"I":-1.18},{"s":"r5","E":-0.3,"I":-1.37},{"s":"r5","E":-0.5,"I":-2.29},
{"s":"r6","E":1.8,"I":9.6},{"s":"r6","E":1.75,"I":8.74},{"s":"r6","E":1.7,"I":8.01},{"s":"r6","E":1.6,"I":6.81},{"s":"r6","E":1.5,"I":5.91},{"s":"r6","E":1.4,"I":5.25},{"s":"r6","E":1.3,"I":4.74},{"s":"r6","E":1.1,"I":3.92},{"s":"r6","E":0.9,"I":2.92},{"s":"r6","E":0.7,"I":1.94},{"s":"r6","E":0.5,"I":0.99},{"s":"r6","E":0.35,"I":0.45},{"s":"r6","E":0.2,"I":0.39},{"s":"r6","E":0.1,"I":0.14},{"s":"r6","E":0,"I":-0.5},{"s":"r6","E":-0.1,"I":-1.28},{"s":"r6","E":-0.2,"I":-1.36},{"s":"r6","E":-0.3,"I":-1.53},{"s":"r6","E":-0.5,"I":-2.37},
{"s":"r7","E":1.8,"I":9.42},{"s":"r7","E":1.75,"I":8.55},{"s":"r7","E":1.7,"I":7.82},{"s":"r7","E":1.6,"I":6.62},{"s":"r7","E":1.5,"I":5.72},{"s":"r7","E":1.4,"I":5.05},{"s":"r7","E":1.3,"I":4.55},{"s":"r7","E":1.1,"I":3.75},{"s":"r7","E":0.9,"I":2.75},{"s":"r7","E":0.7,"I":1.79},{"s":"r7","E":0.5,"I":0.84},{"s":"r7","E":0.35,"I":0.31},{"s":"r7","E":0.2,"I":0.29},{"s":"r7","E":0.1,"I":0.06},{"s":"r7","E":0,"I":-0.59},{"s":"r7","E":-0.1,"I":-1.38},{"s":"r7","E":-0.2,"I":-1.44},{"s":"r7","E":-0.3,"I":-1.61},{"s":"r7","E":-0.5,"I":-2.57},
{"s":"r8","E":1.8,"I":9.0},{"s":"r8","E":1.75,"I":8.13},{"s":"r8","E":1.7,"I":7.39},{"s":"r8","E":1.6,"I":6.18},{"s":"r8","E":1.5,"I":5.28},{"s":"r8","E":1.4,"I":4.61},{"s":"r8","E":1.3,"I":4.13},{"s":"r8","E":1.1,"I":3.37},{"s":"r8","E":0.9,"I":2.38},{"s":"r8","E":0.7,"I":1.44},{"s":"r8","E":0.5,"I":0.5},{"s":"r8","E":0.35,"I":0.0},{"s":"r8","E":0.2,"I":0.08},{"s":"r8","E":0.1,"I":-0.12},{"s":"r8","E":0,"I":-0.78},{"s":"r8","E":-0.1,"I":-1.6},{"s":"r8","E":-0.2,"I":-1.62},{"s":"r8","E":-0.3,"I":-1.77},{"s":"r8","E":-0.5,"I":-2.66},
{"s":"r9","E":1.8,"I":8.82},{"s":"r9","E":1.75,"I":7.94},{"s":"r9","E":1.7,"I":7.2},{"s":"r9","E":1.6,"I":5.98},{"s":"r9","E":1.5,"I":5.08},{"s":"r9","E":1.4,"I":4.42},{"s":"r9","E":1.3,"I":3.94},{"s":"r9","E":1.1,"I":3.2},{"s":"r9","E":0.9,"I":2.22},{"s":"r9","E":0.7,"I":1.28},{"s":"r9","E":0.5,"I":0.35},{"s":"r9","E":0.35,"I":-0.14},{"s":"r9","E":0.2,"I":-0.02},{"s":"r9","E":0.1,"I":-0.2},{"s":"r9","E":0,"I":-0.87},{"s":"r9","E":-0.1,"I":-1.7},{"s":"r9","E":-0.2,"I":-1.7},{"s":"r9","E":-0.3,"I":-1.84},{"s":"r9","E":-0.5,"I":-2.88},
{"s":"r10","E":1.8,"I":8.36},{"s":"r10","E":1.75,"I":7.47},{"s":"r10","E":1.7,"I":6.73},{"s":"r10","E":1.6,"I":5.49},{"s":"r10","E":1.5,"I":4.59},{"s":"r10","E":1.4,"I":3.94},{"s":"r10","E":1.3,"I":3.47},{"s":"r10","E":1.1,"I":2.78},{"s":"r10","E":0.9,"I":1.81},{"s":"r10","E":0.7,"I":0.89},{"s":"r10","E":0.5,"I":-0.03},{"s":"r10","E":0.35,"I":-0.48},{"s":"r10","E":0.2,"I":-0.26},{"s":"r10","E":0.1,"I":-0.4},{"s":"r10","E":0,"I":-1.09},{"s":"r10","E":-0.1,"I":-1.95},{"s":"r10","E":-0.2,"I":-1.9},{"s":"r10","E":-0.3,"I":-2.02},{"s":"r10","E":-0.5,"I":-2.95},
{"s":"r11","E":1.8,"I":8.22},{"s":"r11","E":1.75,"I":7.33},{"s":"r11","E":1.7,"I":6.58},{"s":"r11","E":1.6,"I":5.34},{"s":"r11","E":1.5,"I":4.44},{"s":"r11","E":1.4,"I":3.79},{"s":"r11","E":1.3,"I":3.33},{"s":"r11","E":1.1,"I":2.65},{"s":"r11","E":0.9,"I":1.69},{"s":"r11","E":0.7,"I":0.77},{"s":"r11","E":0.5,"I":-0.14},{"s":"r11","E":0.35,"I":-0.58},{"s":"r11","E":0.2,"I":-0.33},{"s":"r11","E":0.1,"I":-0.46},{"s":"r11","E":0,"I":-1.15},{"s":"r11","E":-0.1,"I":-2.03},{"s":"r11","E":-0.2,"I":-1.96},{"s":"r11","E":-0.3,"I":-2.07},{"s":"r11","E":-0.5,"I":-3.03},
{"s":"r12","E":1.8,"I":8.04},{"s":"r12","E":1.75,"I":7.14},{"s":"r12","E":1.7,"I":6.39},{"s":"r12","E":1.6,"I":5.15},{"s":"r12","E":1.5,"I":4.25},{"s":"r12","E":1.4,"I":3.6},{"s":"r12","E":1.3,"I":3.14},{"s":"r12","E":1.1,"I":2.48},{"s":"r12","E":0.9,"I":1.52},{"s":"r12","E":0.7,"I":0.62},{"s":"r12","E":0.5,"I":-0.29},{"s":"r12","E":0.35,"I":-0.72},{"s":"r12","E":0.2,"I":-0.43},{"s":"r12","E":0.1,"I":-0.54},{"s":"r12","E":0,"I":-1.24},{"s":"r12","E":-0.1,"I":-2.13},{"s":"r12","E":-0.2,"I":-2.04},{"s":"r12","E":-0.3,"I":-2.15},{"s":"r12","E":-0.5,"I":-3.1},
{"s":"r13","E":1.8,"I":7.9},{"s":"r13","E":1.75,"I":7.0},{"s":"r13","E":1.7,"I":6.25},{"s":"r13","E":1.6,"I":5.0},{"s":"r13","E":1.5,"I":4.1},{"s":"r13","E":1.4,"I":3.45},{"s":"r13","E":1.3,"I":3.0},{"s":"r13","E":1.1,"I":2.35},{"s":"r13","E":0.9,"I":1.4},{"s":"r13","E":0.7,"I":0.5},{"s":"r13","E":0.5,"I":-0.4},{"s":"r13","E":0.35,"I":-0.82},{"s":"r13","E":0.2,"I":-0.5},{"s":"r13","E":0.1,"I":-0.6},{"s":"r13","E":0,"I":-1.3},{"s":"r13","E":-0.1,"I":-2.2},{"s":"r13","E":-0.2,"I":-2.1},{"s":"r13","E":-0.3,"I":-2.2},{"s":"r13","E":-0.5,"I":-3.15},
{"s":"r14","E":1.8,"I":7.85},{"s":"r14","E":1.75,"I":6.95},{"s":"r14","E":1.7,"I":6.2},{"s":"r14","E":1.6,"I":4.95},{"s":"r14","E":1.5,"I":4.05},{"s":"r14","E":1.4,"I":3.4},{"s":"r14","E":1.3,"I":2.95},{"s":"r14","E":1.1,"I":2.3},{"s":"r14","E":0.9,"I":1.35},{"s":"r14","E":0.7,"I":0.45},{"s":"r14","E":0.5,"I":-0.45},{"s":"r14","E":0.35,"I":-0.87},{"s":"r14","E":0.2,"I":-0.55},{"s":"r14","E":0.1,"I":-0.65},{"s":"r14","E":0,"I":-1.35},{"s":"r14","E":-0.1,"I":-2.25},{"s":"r14","E":-0.2,"I":-2.15},{"s":"r14","E":-0.3,"I":-2.25},{"s":"r14","E":-0.5,"I":-3.15}
]
},
"vconcat":[
{"hconcat":[
 {"vconcat":[
   {"width":10,"height":4,"data":{"values":[]},"mark":"point"},
   {"width":457,"height":306,
    "encoding":{
     "x":{"field":"E","type":"quantitative","scale":{"domain":[-1,2],"nice":false,"zero":false},
      "axis":{"title":"E (V)","values":[-1,-0.95,-0.9,-0.85,-0.8,-0.75,-0.7,-0.65,-0.6,-0.55,-0.5,-0.45,-0.4,-0.35,-0.3,-0.25,-0.2,-0.15,-0.1,-0.05,0,0.05,0.1,0.15,0.2,0.25,0.3,0.35,0.4,0.45,0.5,0.55,0.6,0.65,0.7,0.75,0.8,0.85,0.9,0.95,1,1.05,1.1,1.15,1.2,1.25,1.3,1.35,1.4,1.45,1.5,1.55,1.6,1.65,1.7,1.75,1.8,1.85,1.9,1.95,2],
       "labelExpr":"abs(datum.value*2-round(datum.value*2))<0.001 ? (datum.value<0?'-':'')+format(abs(datum.value),'.1f') : ''",
       "tickSize":{"condition":{"test":"abs(datum.value*2-round(datum.value*2))<0.001","value":8},"value":4},
       "labelFontSize":21,"titleFontSize":23,"labelPadding":6,"titlePadding":12}},
     "y":{"field":"I","type":"quantitative","scale":{"domain":[-5,20],"nice":false,"zero":false},
      "axis":{"title":"I (mA)","values":[-5,0,5,10,15,20],"labelExpr":"(datum.value<0?'-':'')+abs(datum.value)","tickSize":10,"labelFontSize":21,"titleFontSize":22,"labelPadding":4,"titlePadding":4}}
    },
    "layer":[
     {"data":{"name":"A"},"mark":{"type":"line","color":"black","strokeWidth":5,"interpolate":"monotone","strokeCap":"round","strokeJoin":"round"},"encoding":{"detail":{"field":"s"},"order":{"field":"E","type":"quantitative"}}},
     {"data":{"values":[{"E":-0.65,"I":17,"t":"3 döngü"}]},"mark":{"type":"text","font":"Liberation Sans","fontWeight":"bold","fontSize":24,"align":"left","baseline":"alphabetic","color":"black"},"encoding":{"text":{"field":"t","type":"nominal"}}},
     {"data":{"values":[{"E":-0.856,"I":22.94,"t":"A"}]},"mark":{"type":"text","font":"Liberation Serif","fontWeight":"bold","fontSize":30,"align":"center","baseline":"alphabetic","color":"black"},"encoding":{"text":{"field":"t","type":"nominal"}}}
    ]}
  ],"bounds":"flush","spacing":20},
 {"width":498,"height":332,
  "encoding":{
   "x":{"field":"E","type":"quantitative","scale":{"domain":[-2,2],"nice":false,"zero":false},
    "axis":{"title":"E (V)","values":[-2,-1.8333,-1.6667,-1.5,-1.3333,-1.1667,-1,-0.8333,-0.6667,-0.5,-0.3333,-0.1667,0,0.1667,0.3333,0.5,0.6667,0.8333,1,1.1667,1.3333,1.5,1.6667,1.8333,2],
     "labelExpr":"abs(datum.value*2-round(datum.value*2))<0.01 ? (datum.value<0?'-':'')+format(abs(datum.value),'.1f') : ''",
     "tickSize":{"condition":{"test":"abs(datum.value*2-round(datum.value*2))<0.01","value":6},"value":4},
     "labelFontSize":22,"titleFontSize":26,"labelPadding":4,"titlePadding":7}},
   "y":{"field":"I","type":"quantitative","scale":{"domain":[-10,10],"nice":false,"zero":false},
    "axis":{"title":"I \u00a0(mA)","values":[-10,-9,-8,-7,-6,-5,-4,-3,-2,-1,0,1,2,3,4,5,6,7,8,9,10],
     "labelExpr":"abs(datum.value/5-round(datum.value/5))<0.001 ? (datum.value<0?'-':'')+abs(datum.value) : ''",
     "tickSize":{"condition":{"test":"abs(datum.value/5-round(datum.value/5))<0.001","value":6},"value":4},
     "labelFontSize":22,"titleFontSize":26,"labelPadding":1,"titlePadding":8}}
  },
  "layer":[
   {"data":{"name":"B"},"mark":{"type":"line","color":"black","strokeWidth":5,"interpolate":"monotone","strokeCap":"round","strokeJoin":"round"},"encoding":{"detail":{"field":"s"},"order":{"field":"E","type":"quantitative"}}},
   {"data":{"values":[{"E":-1.486,"I":6.45,"t":"10 döngü"}]},"mark":{"type":"text","font":"Liberation Sans","fontWeight":"bold","fontSize":25,"align":"left","baseline":"alphabetic","color":"black"},"encoding":{"text":{"field":"t","type":"nominal"}}},
   {"data":{"values":[{"E":-1.62,"I":10.3,"t":"B"}]},"mark":{"type":"text","font":"Liberation Serif","fontWeight":"bold","fontSize":30,"align":"center","baseline":"alphabetic","color":"black"},"encoding":{"text":{"field":"t","type":"nominal"}}}
  ]}
 ],"spacing":17.5},
{"hconcat":[
 {"width":200,"height":4,"data":{"values":[]},"mark":"point"},
 {"width":542,"height":360,
  "encoding":{
   "x":{"field":"E","type":"quantitative","scale":{"domain":[-1,2],"nice":false,"zero":false},
    "axis":{"title":"E (V)","values":[-1,-0.95,-0.9,-0.85,-0.8,-0.75,-0.7,-0.65,-0.6,-0.55,-0.5,-0.45,-0.4,-0.35,-0.3,-0.25,-0.2,-0.15,-0.1,-0.05,0,0.05,0.1,0.15,0.2,0.25,0.3,0.35,0.4,0.45,0.5,0.55,0.6,0.65,0.7,0.75,0.8,0.85,0.9,0.95,1,1.05,1.1,1.15,1.2,1.25,1.3,1.35,1.4,1.45,1.5,1.55,1.6,1.65,1.7,1.75,1.8,1.85,1.9,1.95,2],
     "labelExpr":"abs(datum.value*2-round(datum.value*2))<0.001 ? (datum.value<0?'-':'')+format(abs(datum.value),'.1f') : ''",
     "tickSize":{"condition":{"test":"abs(datum.value*2-round(datum.value*2))<0.001","value":8},"value":4},
     "labelFontSize":25,"titleFontSize":27,"labelPadding":8,"titlePadding":10}},
   "y":{"field":"I","type":"quantitative","scale":{"domain":[-5,15],"nice":false,"zero":false},
    "axis":{"title":"I (mA)","values":[-5,-4,-3,-2,-1,0,1,2,3,4,5,6,7,8,9,10,11,12,13,14,15],
     "labelExpr":"abs(datum.value/5-round(datum.value/5))<0.001 ? (datum.value<0?'-':'')+abs(datum.value) : ''",
     "tickSize":{"condition":{"test":"abs(datum.value/5-round(datum.value/5))<0.001","value":9},"value":4},
     "labelFontSize":25,"titleFontSize":27,"labelPadding":1,"titlePadding":16}}
  },
  "layer":[
   {"data":{"name":"C"},"mark":{"type":"line","color":"black","strokeWidth":5,"interpolate":"monotone","strokeCap":"round","strokeJoin":"round"},"encoding":{"detail":{"field":"s"},"order":{"field":"E","type":"quantitative"}}},
   {"data":{"values":[{"E":-0.734,"I":13.56,"t":"20 döngü"}]},"mark":{"type":"text","font":"Liberation Sans","fontWeight":"bold","fontSize":23,"align":"left","baseline":"alphabetic","color":"black"},"encoding":{"text":{"field":"t","type":"nominal"}}},
   {"data":{"values":[{"E":-1.42,"I":12.94,"t":"C"}]},"mark":{"type":"text","font":"Liberation Serif","fontWeight":"bold","fontSize":30,"align":"center","baseline":"alphabetic","color":"black"},"encoding":{"text":{"field":"t","type":"nominal"}}}
  ]}
 ],"spacing":9.5}
],
"spacing":14
}
